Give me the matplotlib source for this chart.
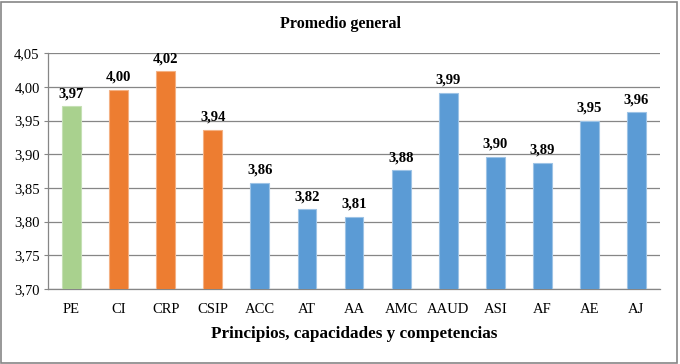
import numpy as np
import matplotlib.pyplot as plt
from matplotlib.patches import Rectangle

plt.rcParams['font.family'] = ['Liberation Serif', 'DejaVu Serif']

categorias = ['PE', 'CI', 'CRP', 'CSIP', 'ACC', 'AT', 'AA', 'AMC', 'AAUD',
              'ASI', 'AF', 'AE', 'AJ']
promedios = [3.971, 3.996, 4.023, 3.936, 3.858, 3.818, 3.807, 3.876, 3.991,
             3.896, 3.887, 3.949, 3.962]
grupos = ['PE', 'C', 'C', 'C', 'A', 'A', 'A', 'A', 'A', 'A', 'A', 'A', 'A']
yticks = [3.70, 3.75, 3.80, 3.85, 3.90, 3.95, 4.00, 4.05]

colores = {'PE': '#A9D18E', 'C': '#ED7D31', 'A': '#5B9BD5'}
bordes = {'PE': '#C5E0B4', 'C': '#F4B183', 'A': '#9DC3E6'}

fig = plt.figure(figsize=(6.8, 3.64), dpi=100)
ax = fig.add_axes([0.0706, 0.206, 0.90, 0.648])

x = np.arange(len(categorias))
bars = ax.bar(x, promedios, width=0.4,
              color=[colores[g] for g in grupos],
              edgecolor=[bordes[g] for g in grupos], linewidth=0.8, zorder=3)

for xi, v in zip(x, promedios):
    ax.annotate(f'{v:.2f}'.replace('.', ','), (xi, v), xytext=(0, 4.5),
                textcoords='offset points', ha='center', va='bottom',
                fontsize=10.5, fontweight='bold')

ax.set_xlim(-0.5, len(categorias) - 0.5)
ax.set_ylim(3.70, 4.05)
ax.set_yticks(yticks)
ax.set_yticklabels([f'{t:.2f}'.replace('.', ',') for t in yticks], fontsize=10.5)
ax.set_xticks(x)
ax.set_xticklabels(categorias, fontsize=10.5)
ax.tick_params(axis='x', length=0, pad=10)
ax.tick_params(axis='y', length=3, color='#868686', pad=3)
ax.grid(axis='y', color='#868686', linewidth=0.9, zorder=0)

for s in ['top', 'right']:
    ax.spines[s].set_visible(False)
for s in ['left', 'bottom']:
    ax.spines[s].set_color('#868686')
    ax.spines[s].set_linewidth(0.9)

ax.set_xlabel('Principios, capacidades y competencias', fontsize=12.3,
              fontweight='bold', labelpad=7)
fig.text(0.5, 0.935, 'Promedio general', ha='center', va='center',
         fontsize=11.5, fontweight='bold')

fig.patches.append(Rectangle((0.002, 0.004), 0.994, 0.99, transform=fig.transFigure,
                             fill=False, edgecolor='#868686', linewidth=1.2))

fig.savefig('out.png', dpi=100)
